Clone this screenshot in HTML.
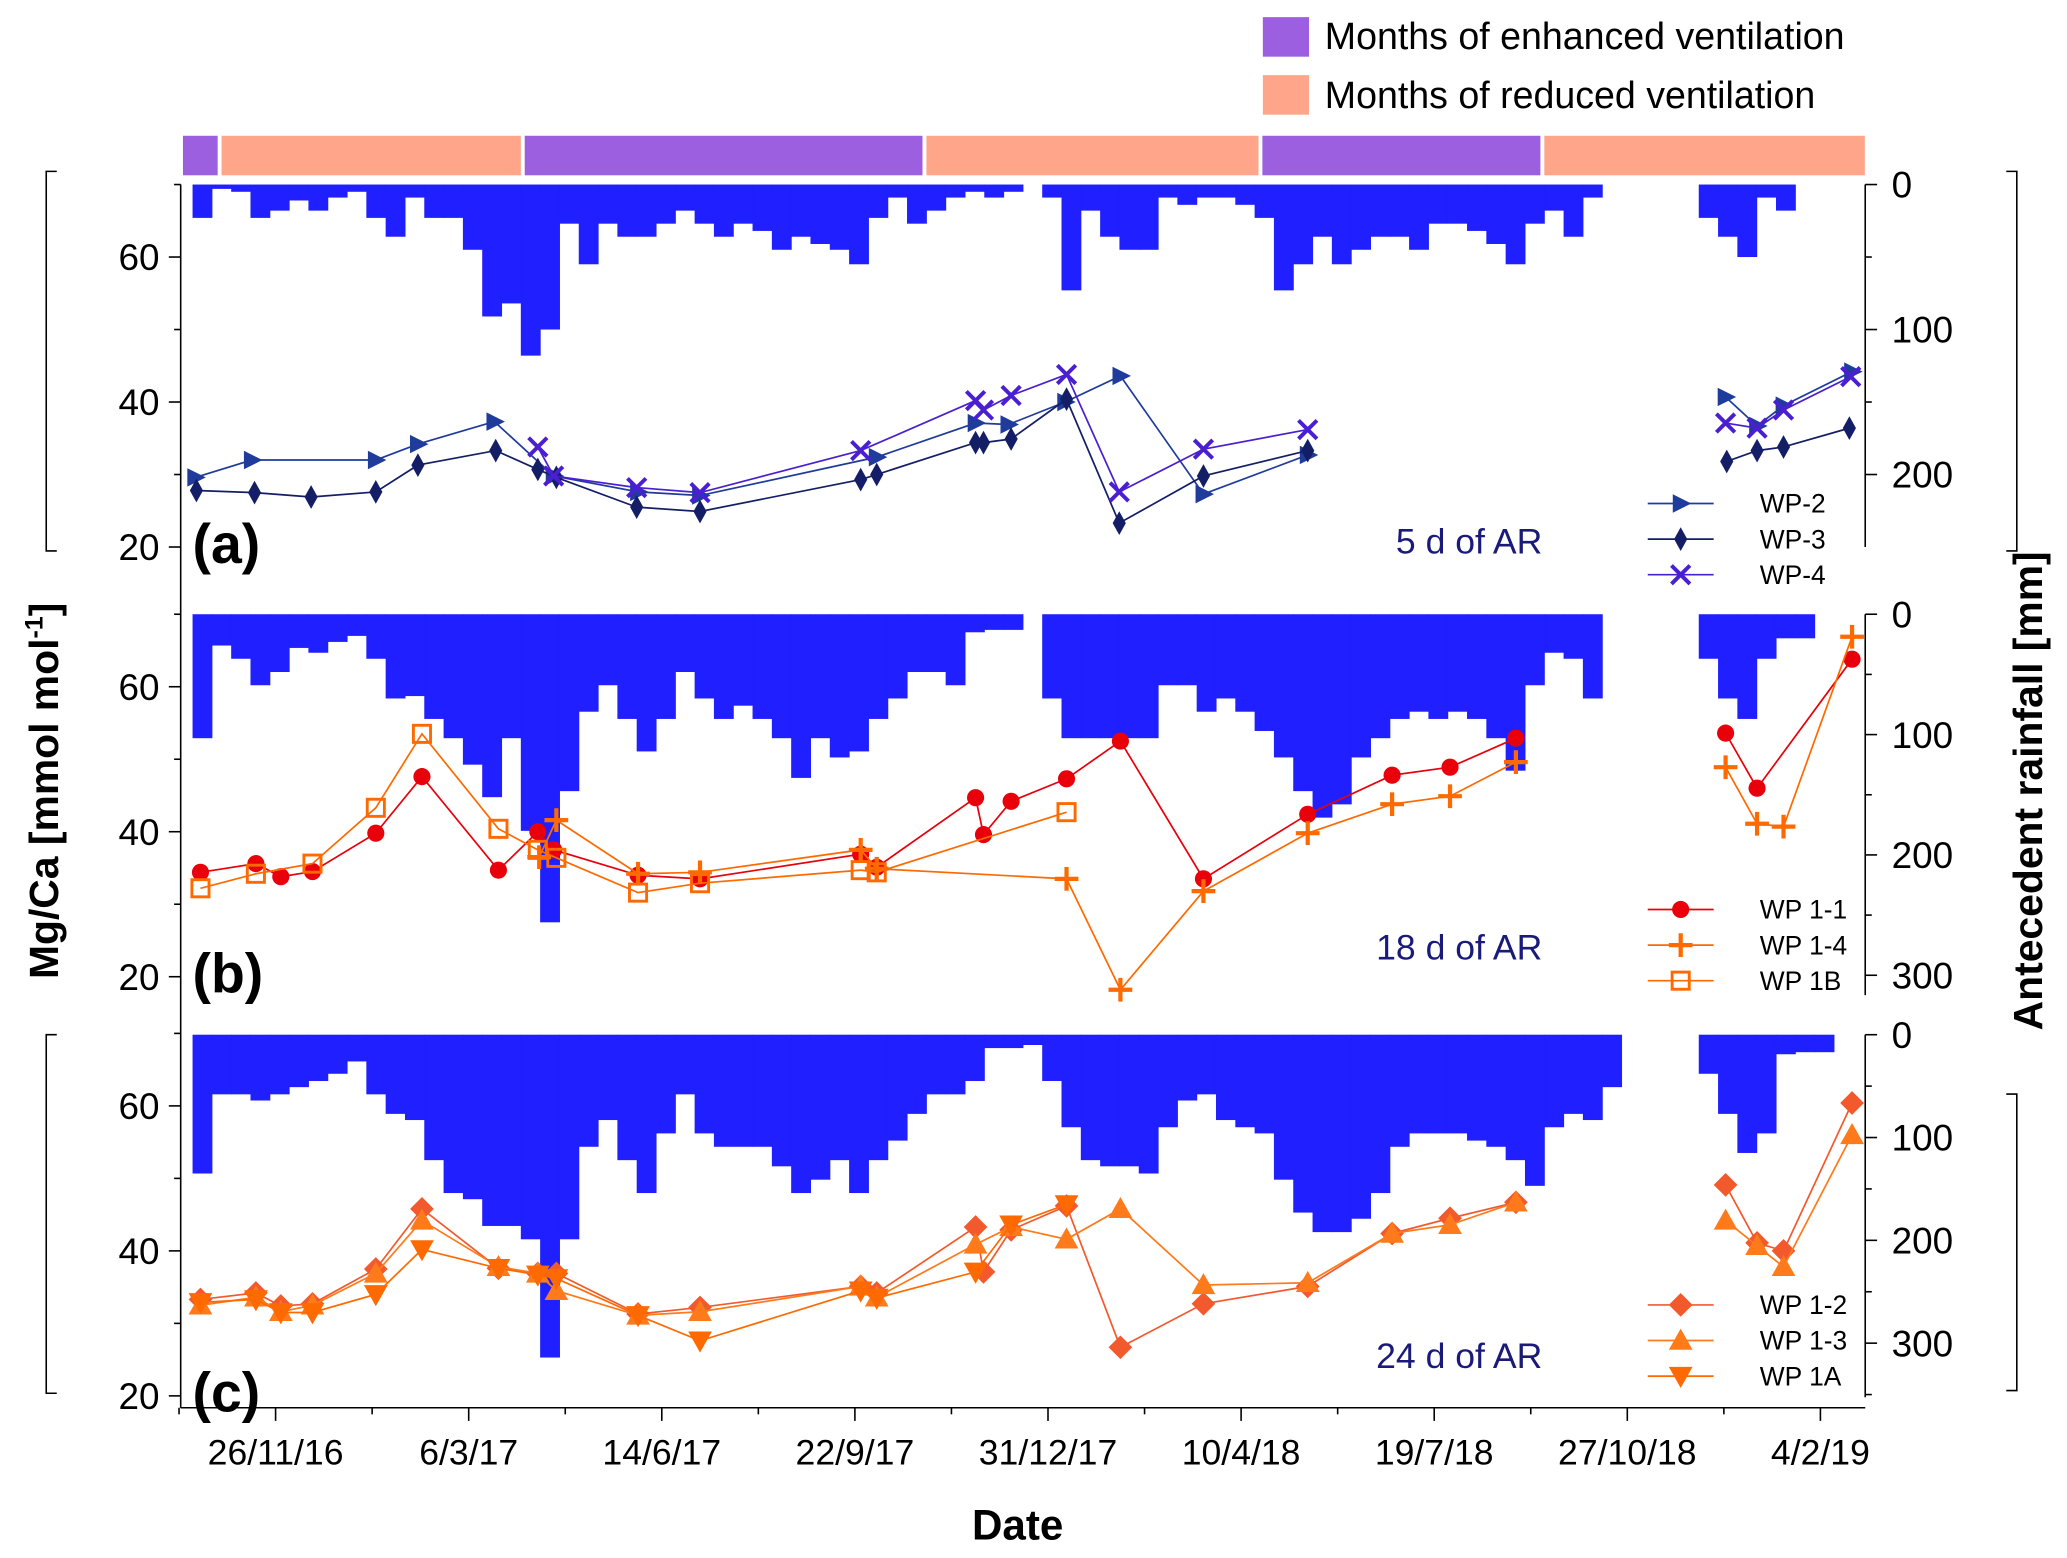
<!DOCTYPE html>
<html><head><meta charset="utf-8"><style>
html,body{margin:0;padding:0;background:#fff}
svg{display:block;font-family:"Liberation Sans",Arial,sans-serif}
</style></head><body>
<svg id="chart" width="2067" height="1558" viewBox="0 0 1568 1182" xmlns="http://www.w3.org/2000/svg">
<g>
<rect x="958" y="13" width="35" height="30" fill="#9b5fe0"/>
<text x="1005" y="37" font-size="28.5">Months of enhanced ventilation</text>
<rect x="958" y="57" width="35" height="30" fill="#ffa58a"/>
<text x="1005" y="82" font-size="28.5">Months of reduced ventilation</text>
</g>
<g id="strip"></g>
<g id="rain"></g>
<g id="axes"></g>
<g id="series"></g>
<text x="772" y="1168" font-size="32" font-weight="bold" text-anchor="middle">Date</text>
<text transform="translate(44,600) rotate(-90)" font-size="31" font-weight="bold" text-anchor="middle">Mg/Ca [mmol mol<tspan font-size="19" dy="-12">-1</tspan><tspan dy="12">]</tspan></text>
<text transform="translate(1549,600) rotate(-90)" font-size="31" font-weight="bold" text-anchor="middle">Antecedent rainfall [mm]</text>
</svg>
<script>
// ===== DATA =====
const tickLabels = ["26/11/16","6/3/17","14/6/17","22/9/17","31/12/17","10/4/18","19/7/18","27/10/18","4/2/19"];
const tickDays = [0,100,200,300,400,500,600,700,800];
const ventStart = [-49,-29,128,336,510,656];
const ventEnd = [-30,127,335,509,655,823];
const ventType = ["e","r","e","r","e","r"];
const rainStartDay = -43;
const rainA = [23,3,5,23,18,11,18,9,5,23,36,9,23,23,45,91,82,118,100,27,55,27,36,36,27,18,27,36,27,32,45,36,41,45,55,23,9,27,18,9,5,9,5,0,9,73,18,36,45,45,9,14,9,9,14,23,73,55,36,55,45,36,36,45,27,27,32,41,55,27,18,36,9,0,0,0,0,0,23,36,50,9,18,0,0,0,0,0];
const rainB = [103,26,37,59,48,28,32,23,18,37,70,68,87,103,125,152,103,180,256,147,81,59,87,114,87,48,70,87,76,87,103,136,103,119,114,87,70,48,48,59,15,13,13,0,70,103,103,103,103,103,59,59,81,70,81,97,119,147,169,158,119,103,87,81,87,81,87,103,130,59,32,37,70,0,0,0,0,0,37,70,87,37,20,20,0,0,0,0];
const rainC = [135,58,58,64,58,51,45,38,26,58,77,83,122,154,160,186,186,199,314,199,109,83,122,154,96,58,96,109,109,109,128,154,141,122,154,122,103,77,58,58,45,13,13,10,45,90,122,128,128,135,90,64,58,83,90,96,141,173,192,192,179,154,109,96,96,96,103,109,122,147,90,77,83,51,0,0,0,0,38,77,115,96,19,17,17,0,0,0];
const wp2Days = [-41.6,-12.3,51.9,73.7,113.3,144,187.7,219.8,311.3,362.5,379.5,408.9,437.5,480.5,534.5,null,750.9,767.2,780.9,816.4];
const wp2Vals = [29.6,32,32,34.2,37.3,29.8,27.6,27.1,32.4,37.1,36.9,40,43.6,27.3,32.7,null,40.7,36.7,39.5,44.2];
const wp3Days = [-41,-10.9,18.4,51.9,73.7,114,135.8,145.4,187,219.8,303,311.3,362.5,366.6,380.9,409.6,436.9,480.5,534.5,null,751.5,767.2,780.9,815];
const wp3Vals = [27.8,27.5,26.9,27.6,31.3,33.3,30.7,29.6,25.5,24.9,29.3,30,34.4,34.4,34.9,40.4,23.3,29.8,33.3,null,31.8,33.3,33.8,36.4];
const wp4Days = [135.8,144,187,219.8,303,362.5,366.6,380.9,409.6,436.9,480.5,534.5,null,750.9,767.2,780.9,815.7];
const wp4Vals = [33.8,29.8,28.2,27.5,33.3,40.2,38.9,40.9,43.8,27.6,33.5,36.2,null,37.1,36.4,38.9,43.5];
const wp11Days = [-38.9,-10.2,2.7,19.1,51.9,75.8,115.4,135.8,144,187.7,219.8,303,311.3,362.5,366.6,380.9,409.6,437.5,480.5,534.5,578.2,608.2,642.3,null,750.9,767.2,816.4];
const wp11Vals = [34.4,35.6,33.8,34.5,39.8,47.6,34.7,40,37.5,34,33.5,36.9,35.1,44.7,39.6,44.2,47.3,52.5,33.5,42.4,47.8,48.9,52.9,null,53.6,46,63.8];
const wp14Days = [136.5,145.4,187.7,219.8,303,311.3,409.6,437.5,480.5,534.5,578.2,608.2,642.3,null,750.9,767.2,780.9,816.4];
const wp14Vals = [36.5,41.6,34.2,34.4,37.5,34.9,33.5,18.2,31.8,39.8,43.8,44.9,49.6,null,48.9,41.1,40.7,66.9];
const wp1bDays = [-38.9,-10.2,19.1,51.9,75.8,115.4,135.8,145.4,187.7,219.8,303,311.3,409.6];
const wp1bVals = [32.2,34.2,35.6,43.3,53.5,40.4,37.5,36.4,31.6,32.9,34.7,34.4,42.7];
const wp12Days = [-38.9,-10.2,2.7,19.1,51.9,75.8,115.4,135.8,145.4,187.7,219.8,303,311.3,362.5,366.6,380.9,409.6,437.5,480.5,534.5,578.2,608.2,642.3,null,750.9,767.2,780.9,816.4];
const wp12Vals = [33.3,34.2,32.4,32.7,37.5,45.8,37.6,36.9,36.9,31.3,32.2,35.1,34.2,43.3,37.1,42.9,46.2,26.7,32.7,35.1,42.4,44.5,46.7,null,49.1,41.1,40,60.4];
const wp13Days = [-38.9,-10.2,2.7,19.1,51.9,75.8,115.4,135.8,145.4,187.7,219.8,303,311.3,362.5,380.9,409.6,437.5,480.5,534.5,578.2,608.2,642.3,null,750.9,767.2,780.9,816.4];
const wp13Vals = [32.5,33.6,31.6,32.5,36.9,44.2,37.8,36.9,34.5,31.1,31.6,35.1,33.6,40.9,43.3,41.6,45.8,35.3,35.6,42.4,43.6,46.7,null,44.2,40.7,37.8,56];
const wp1aDays = [-38.9,-10.2,2.7,19.1,51.9,75.8,115.4,135.8,145.4,187.7,219.8,303,311.3,362.5,380.9,409.6];
const wp1aVals = [32.9,33.3,31.5,31.5,34,40.2,37.6,36.7,36.2,31.1,27.6,34.5,33.5,37.1,43.6,46.4];

// ===== LAYOUT =====
const NS="http://www.w3.org/2000/svg";
const X0=137,X1=1415;
function xs(d){return 209+1.465*d;}
const panels=[
 {top:140,mg20:415,mmPx:1.1,rain:rainA,rEnd:415,label:"(a)",ar:"5 d of AR",arY:420},
 {top:466,mg20:741,mmPx:0.913,rain:rainB,rEnd:755,label:"(b)",ar:"18 d of AR",arY:728},
 {top:785,mg20:1059,mmPx:0.78,rain:rainC,rEnd:1060,label:"(c)",ar:"24 d of AR",arY:1038}];
function ys(p,v){return p.mg20-(v-20)*5.5;}
function mk(tag,attrs,parent){const e=document.createElementNS(NS,tag);for(const k in attrs)e.setAttribute(k,attrs[k]);parent.appendChild(e);return e;}
const strip=document.getElementById('strip'),rainG=document.getElementById('rain'),axes=document.getElementById('axes'),ser=document.getElementById('series');

for(let i=0;i<ventStart.length;i++){
 const x0=Math.max(X0+1,xs(ventStart[i])+1.5);
 const r=mk('rect',{x:x0,y:103,width:xs(ventEnd[i])-x0,height:30,fill:ventType[i]==='e'?'#9b5fe0':'#ffa58a'},strip);
 
 
}

panels.forEach((p,pi)=>{
 const bw=10*1.465;
 p.rain.forEach((mm,k)=>{
  if(!mm) return;
  const x=xs(rainStartDay+10*k);
  const r=mk('rect',{x:x,y:p.top,width:bw+0.4,height:mm*p.mmPx,fill:'#1f1fff'},rainG);
  
  
 });
 for(let v=20;v<=70;v+=10){
  const y=ys(p,v);const major=v%20===0;
  mk('line',{x1:X0-(major?9:5),x2:X0,y1:y,y2:y,stroke:'#000','stroke-width':1.2},axes);
  if(major){const t=mk('text',{x:121,y:y+10,'font-size':28,'text-anchor':'end'},axes);t.textContent=v;
   }
 }
 mk('line',{x1:X1,x2:X1,y1:p.top,y2:p.rEnd,stroke:'#000','stroke-width':1.2},axes);
 const rmax=(p.rEnd-p.top)/p.mmPx;
 for(let v=0;v<=rmax;v+=50){
  const y=p.top+v*p.mmPx;const major=v%100===0;
  mk('line',{x1:X1,x2:X1+(major?9:5),y1:y,y2:y,stroke:'#000','stroke-width':1.2},axes);
  if(major){const t=mk('text',{x:1435,y:y+10,'font-size':28},axes);t.textContent=v;
   }
 }
 const pl=mk('text',{x:146,y:p.mg20+12,'font-size':42,'font-weight':'bold'},axes);pl.textContent=p.label;
 
 const ar=mk('text',{x:1170,y:p.arY,'font-size':27,fill:'#1a1a7a','text-anchor':'end'},axes);ar.textContent=p.ar;
 
});
mk('line',{x1:X0,x2:X0,y1:140,y2:1068,stroke:'#000','stroke-width':1.2},axes);
mk('line',{x1:X0,x2:X1,y1:1068,y2:1068,stroke:'#000','stroke-width':1.2},axes);
tickDays.forEach((d,i)=>{
 mk('line',{x1:xs(d),x2:xs(d),y1:1068,y2:1078,stroke:'#000','stroke-width':1.2},axes);
 mk('line',{x1:xs(d-50),x2:xs(d-50),y1:1068,y2:1073,stroke:'#000','stroke-width':1.2},axes);
 const t=mk('text',{x:xs(d),y:1111,'font-size':27,'text-anchor':'middle'},axes);t.textContent=tickLabels[i];
 
});
[[35,130,418,1],[35,785,1057,1],[1530,130,418,-1],[1530,830,1055,-1]].forEach(b=>{
 mk('path',{d:`M${b[0]+8*b[3]},${b[1]}H${b[0]}V${b[2]}H${b[0]+8*b[3]}`,fill:'none',stroke:'#000','stroke-width':1.2},axes);
});

function marker(type,x,y,col,g){
 if(type==='tri-r') return mk('path',{d:`M${x-6},${y-7}L${x+8},${y}L${x-6},${y+7}Z`,fill:col},g);
 if(type==='dia') return mk('path',{d:`M${x},${y-9}L${x+5},${y}L${x},${y+9}L${x-5},${y}Z`,fill:col},g);
 if(type==='x') return mk('path',{d:`M${x-7},${y-7}L${x+7},${y+7}M${x-7},${y+7}L${x+7},${y-7}`,stroke:col,'stroke-width':3},g);
 if(type==='circ') return mk('circle',{cx:x,cy:y,r:6.5,fill:col},g);
 if(type==='plus') return mk('path',{d:`M${x-9},${y}H${x+9}M${x},${y-9}V${y+9}`,stroke:col,'stroke-width':3.2},g);
 if(type==='sq') return mk('rect',{x:x-6.5,y:y-6.5,width:13,height:13,fill:'none',stroke:col,'stroke-width':2.2},g);
 if(type==='dia2') return mk('path',{d:`M${x},${y-9}L${x+9},${y}L${x},${y+9}L${x-9},${y}Z`,fill:col},g);
 if(type==='tri-u') return mk('path',{d:`M${x},${y-9}L${x+9},${y+7}L${x-9},${y+7}Z`,fill:col},g);
 if(type==='tri-d') return mk('path',{d:`M${x},${y+9}L${x+9},${y-7}L${x-9},${y-7}Z`,fill:col},g);
}
const seriesDefs=[
 [0,'WP-2',wp2Days,wp2Vals,'#1f3b9c','tri-r'],
 [0,'WP-3',wp3Days,wp3Vals,'#141e66','dia'],
 [0,'WP-4',wp4Days,wp4Vals,'#4a1fd1','x'],
 [1,'WP 1-1',wp11Days,wp11Vals,'#e8000b','circ'],
 [1,'WP 1-4',wp14Days,wp14Vals,'#ff6a00','plus'],
 [1,'WP 1B',wp1bDays,wp1bVals,'#ff6a00','sq'],
 [2,'WP 1-2',wp12Days,wp12Vals,'#f25a2e','dia2'],
 [2,'WP 1-3',wp13Days,wp13Vals,'#ff7a1a','tri-u'],
 [2,'WP 1A',wp1aDays,wp1aVals,'#ff6a00','tri-d']];
const legY=[[382,409,436],[690,717,744],[990,1017,1044]];
const cnt=[0,0,0];
seriesDefs.forEach(sd=>{
 const p=panels[sd[0]];
 const g=mk('g',{},ser);
 
 
 let d='',pen=false;
 sd[2].forEach((day,i)=>{
  if(day===null||sd[3][i]===null){pen=false;return;}
  d+=(pen?'L':'M')+xs(day)+','+ys(p,sd[3][i]);pen=true;
 });
 mk('path',{d:d,fill:'none',stroke:sd[4],'stroke-width':1.3},g);
 sd[2].forEach((day,i)=>{
  if(day===null||sd[3][i]===null)return;
  const m=marker(sd[5],xs(day),ys(p,sd[3][i]),sd[4],g);
  
  
 });
 const ly=legY[sd[0]][cnt[sd[0]]++];
 const lg=mk('g',{},ser);
 
 
 mk('line',{x1:1250,x2:1300,y1:ly,y2:ly,stroke:sd[4],'stroke-width':1.3},lg);
 marker(sd[5],1275,ly,sd[4],lg);
 const t=mk('text',{x:1335,y:ly+7,'font-size':20},lg);t.textContent=sd[1];
});
</script>
</body></html>
